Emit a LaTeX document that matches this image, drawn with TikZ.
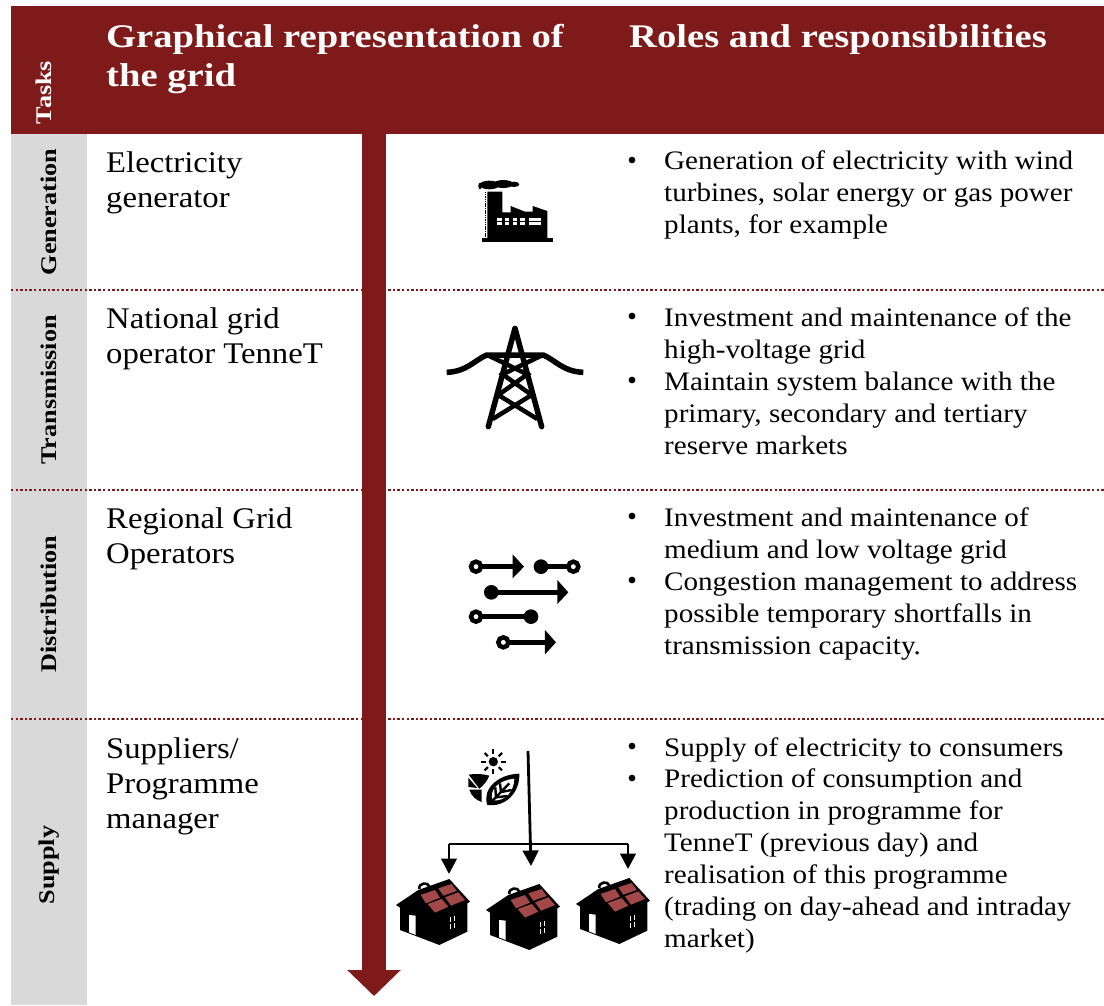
\documentclass[tikz,border=0pt]{standalone}
\usepackage{fontspec}
\setmainfont[FakeStretch=1.09,BoldFeatures={FakeStretch=1.17}]{Liberation Serif}
\usetikzlibrary{arrows.meta}
\definecolor{brick}{HTML}{7F1A1A}
\definecolor{greycol}{HTML}{D9D9D9}
\definecolor{panel}{HTML}{A34848}
\tikzset{
  head/.style={anchor=north west,inner sep=0,align=left,text=white,font=\fontsize{33}{39}\selectfont\bfseries},
  actor/.style={anchor=north west,inner sep=0,align=left,font=\fontsize{30}{35}\selectfont},
  role/.style={anchor=north west,inner sep=0,align=left,font=\fontsize{26.7}{32}\selectfont},
  bul/.style={inner sep=0,circle,fill=black,minimum size=6.7pt},
  task/.style={rotate=90,inner sep=0,font=\fontsize{22.4}{25}\selectfont\bfseries},
  sep/.style={brick,line width=2.4pt,dash pattern=on 2.3pt off 2.3pt},
  wire/.style={line width=2.8pt,black},
  wiretip/.style={wire,-{Triangle[length=15.5pt,width=15.5pt]}},
  zoomA/.style={shift={(#1)},x=0.3333pt,y=-0.3333pt},
  rail/.style={line width=5pt,black},
  ring/.style={line width=4.5pt,draw=black,fill=white}
}
\begin{document}
\begin{tikzpicture}[x=1pt,y=-1pt]
\useasboundingbox (0,0) rectangle (1104,1005);
\fill[white] (0,0) rectangle (1104,1005);
\fill[greycol] (11,134) rectangle (87,1005);
\fill[brick] (11,6) rectangle (1104,134);
\foreach \yy in {290,490,719} \draw[sep] (11,\yy) -- (1104,\yy);

% main arrow
\coordinate (flowtop) at (374,134);
\coordinate (flowend) at (374,996);
\draw[brick,line width=24pt,-{Triangle[length=26pt,width=52pt]}] (flowtop) -- (flowend);

% header
\node[task,text=white] (ttasks) at (44,92.5) {Tasks};
\node[head] (h1) at (106,20) {\strut Graphical representation of\\the grid};
\node[head] (h2) at (629,20) {\strut Roles and responsibilities};

% rotated labels
\node[task] (tgen) at (49,212) {Generation};
\node[task] (ttra) at (49,390) {Transmission};
\node[task] (tdis) at (49,604) {Distribution};
\node[task] (tsup) at (49,865) {Supply};

% actors
\node[actor] (a1) at (106,148) {\strut Electricity\\generator};
\node[actor] (a2) at (106,304) {\strut National grid\\operator TenneT};
\node[actor] (a3) at (106,504) {\strut Regional Grid\\Operators};
\node[actor] (a4) at (106,734) {\strut Suppliers/\\Programme\\manager};

% roles
\node[bul] (b1) at (632,160) {};
\node[role] (r1) at (664,147) {\strut Generation of electricity with wind\\turbines, solar energy or gas power\\plants, for example};
\node[bul] (b2) at (632,316) {};
\node[role] (r2) at (664,303.4) {\strut Investment and maintenance of the\\high-voltage grid};
\node[bul] (b3) at (632,380) {};
\node[role] (r3) at (664,367.4) {\strut Maintain system balance with the\\primary, secondary and tertiary\\reserve markets};
\node[bul] (b4) at (632,516) {};
\node[role] (r4) at (664,503.4) {\strut Investment and maintenance of\\medium and low voltage grid};
\node[bul] (b5) at (632,580) {};
\node[role] (r5) at (664,567.4) {\strut Congestion management to address\\possible temporary shortfalls in\\transmission capacity.};
\node[bul] (b6) at (632,746) {};
\node[role] (r6) at (664,733.4) {\strut Supply of electricity to consumers};
\node[bul] (b7) at (632,778) {};
\node[role] (r7) at (664,765) {\strut Prediction of consumption and\\production in programme for\\TenneT (previous day) and\\realisation of this programme\\(trading on day-ahead and intraday\\market)};

% factory
\begin{scope}[zoomA={440,160}]
  \fill[black] (126,234) rectangle (338,245);
  \fill[black] (142,95) -- (187,95) -- (187,157) -- (212,157) -- (212,138) -- (255,155) -- (278,155) -- (278,138) -- (322,153) -- (322,236) -- (142,236) -- cycle;
  \draw[black,line width=0.7pt,dash pattern=on 1.5pt off 0.8pt] (137,95) -- (137,232);
  \fill[black] (120,78) ellipse (5 and 10);
  \fill[black] (148,75) ellipse (30 and 13);
  \fill[black] (190,72) ellipse (30 and 12);
  \fill[black] (222,73) ellipse (16 and 8);
  \foreach \xx in {172,195,218,241} {
    \fill[white] (\xx,175) rectangle ++(13,7);
    \fill[white] (\xx,187) rectangle ++(13,7);
  }
  \fill[white] (266,175) rectangle (302,182);
  \fill[white] (266,187) rectangle (302,194);
\end{scope}

% pylon
\begin{scope}[zoomA={430,315}]
  \draw[line width=5.5pt,line cap=round,line join=round] (175,335) -- (255,40) -- (335,335);
  \draw[line width=5.5pt,line cap=butt] (50,172) .. controls (110,170) and (135,135) .. (170,120) -- (340,120) .. controls (375,135) and (400,170) .. (460,172);
  \draw[line width=4.5pt] (172,120) -- (292,178) -- (205,240) -- (322,312);
  \draw[line width=4.5pt] (338,120) -- (218,178) -- (305,240) -- (188,312);
\end{scope}

% distribution
\begin{scope}[zoomA={450,545}]
  \draw[rail] (78,65) -- (192,65);
  \fill (188,28) -- (222,65) -- (188,100) -- cycle;
  \draw[rail] (273,65) -- (370,65);
  \fill (273,65) circle (22);
  \draw[rail] (124,142) -- (325,142);
  \fill (124,142) circle (22);
  \fill (322,105) -- (355,142) -- (322,177) -- cycle;
  \draw[rail] (78,215) -- (243,215);
  \fill (243,215) circle (22);
  \draw[rail] (160,292) -- (288,292);
  \fill (285,255) -- (318,292) -- (285,328) -- cycle;
  \foreach \cx/\cy in {78/65,370/65,78/215,160/292} \draw[ring] (\cx,\cy) circle (15);
\end{scope}

% sun and leaves
\begin{scope}[zoomA={390,740}]
  \fill (310,65) circle (14);
  \foreach \aa in {0,45,...,315}
    \draw[line width=2.2pt] (310,65) ++(\aa:23) -- ++(\aa:14);
  \fill (236,104) .. controls (256,100) and (280,102) .. (298,107) .. controls (292,122) and (282,135) .. (268,146) -- cycle;
  \fill (235,113) -- (262,144) -- (235,141) -- cycle;
  \fill (238,149) -- (275,149) -- (275,186) .. controls (258,180) and (244,168) .. (238,149) -- cycle;
  \fill (292,195) .. controls (276,150) and (320,103) .. (388,101) .. controls (390,160) and (345,202) .. (292,195) -- cycle;
  \fill[white] (308,181) .. controls (297,150) and (325,121) .. (373,116) .. controls (372,155) and (345,185) .. (308,181) -- cycle;
  \draw[line width=2.4pt] (298,192) -- (358,130);
  \draw[line width=2.4pt] (318,172) -- (316,142);
  \draw[line width=2.4pt] (333,156) -- (330,130);
  \draw[line width=2.4pt] (318,172) -- (352,168);
  \draw[line width=2.4pt] (333,156) -- (365,150);
\end{scope}

% houses
\foreach \hname/\hx/\hy in {h/390/740,i/480/745,j/570/739} {
\begin{scope}[zoomA={\hx,\hy}]
  \fill (178,417) -- (240,485) -- (232,490) -- (232,575) -- (148,615) -- (30,570) -- (30,503) -- (18,495) -- (85,450) -- cycle;
  \draw[line width=2.6pt] (88,447) .. controls (85,428) and (115,425) .. (118,440);
  \fill[panel] (92,465) -- (135,450) -- (150,473) -- (108,490) -- cycle;
  \fill[panel] (145,445) -- (185,432) -- (200,453) -- (160,467) -- cycle;
  \fill[panel] (113,492) -- (155,477) -- (175,500) -- (135,518) -- cycle;
  \fill[panel] (165,472) -- (205,457) -- (225,480) -- (183,497) -- cycle;
  \fill[white] (57,525) -- (77,527) -- (77,585) -- (57,577) -- cycle;
  \foreach \wx/\wy in {179/532,191/528,179/553,191/549} \fill[white] (\wx,\wy) rectangle ++(5,15);
\end{scope}}

% supply connectors
\coordinate (feed) at (528,751);
\coordinate (tee) at (530,844);
\coordinate (midhouse) at (531,866);
\coordinate (lefthouse) at (449,874);
\coordinate (righthouse) at (628,869);
\draw[wiretip] (feed) -- (midhouse);
\draw[wiretip] (lefthouse |- tee) -- (lefthouse);
\draw[wiretip] (righthouse |- tee) -- (righthouse);
\draw[wire] (lefthouse |- tee) -- (righthouse |- tee);
\end{tikzpicture}
\end{document}
